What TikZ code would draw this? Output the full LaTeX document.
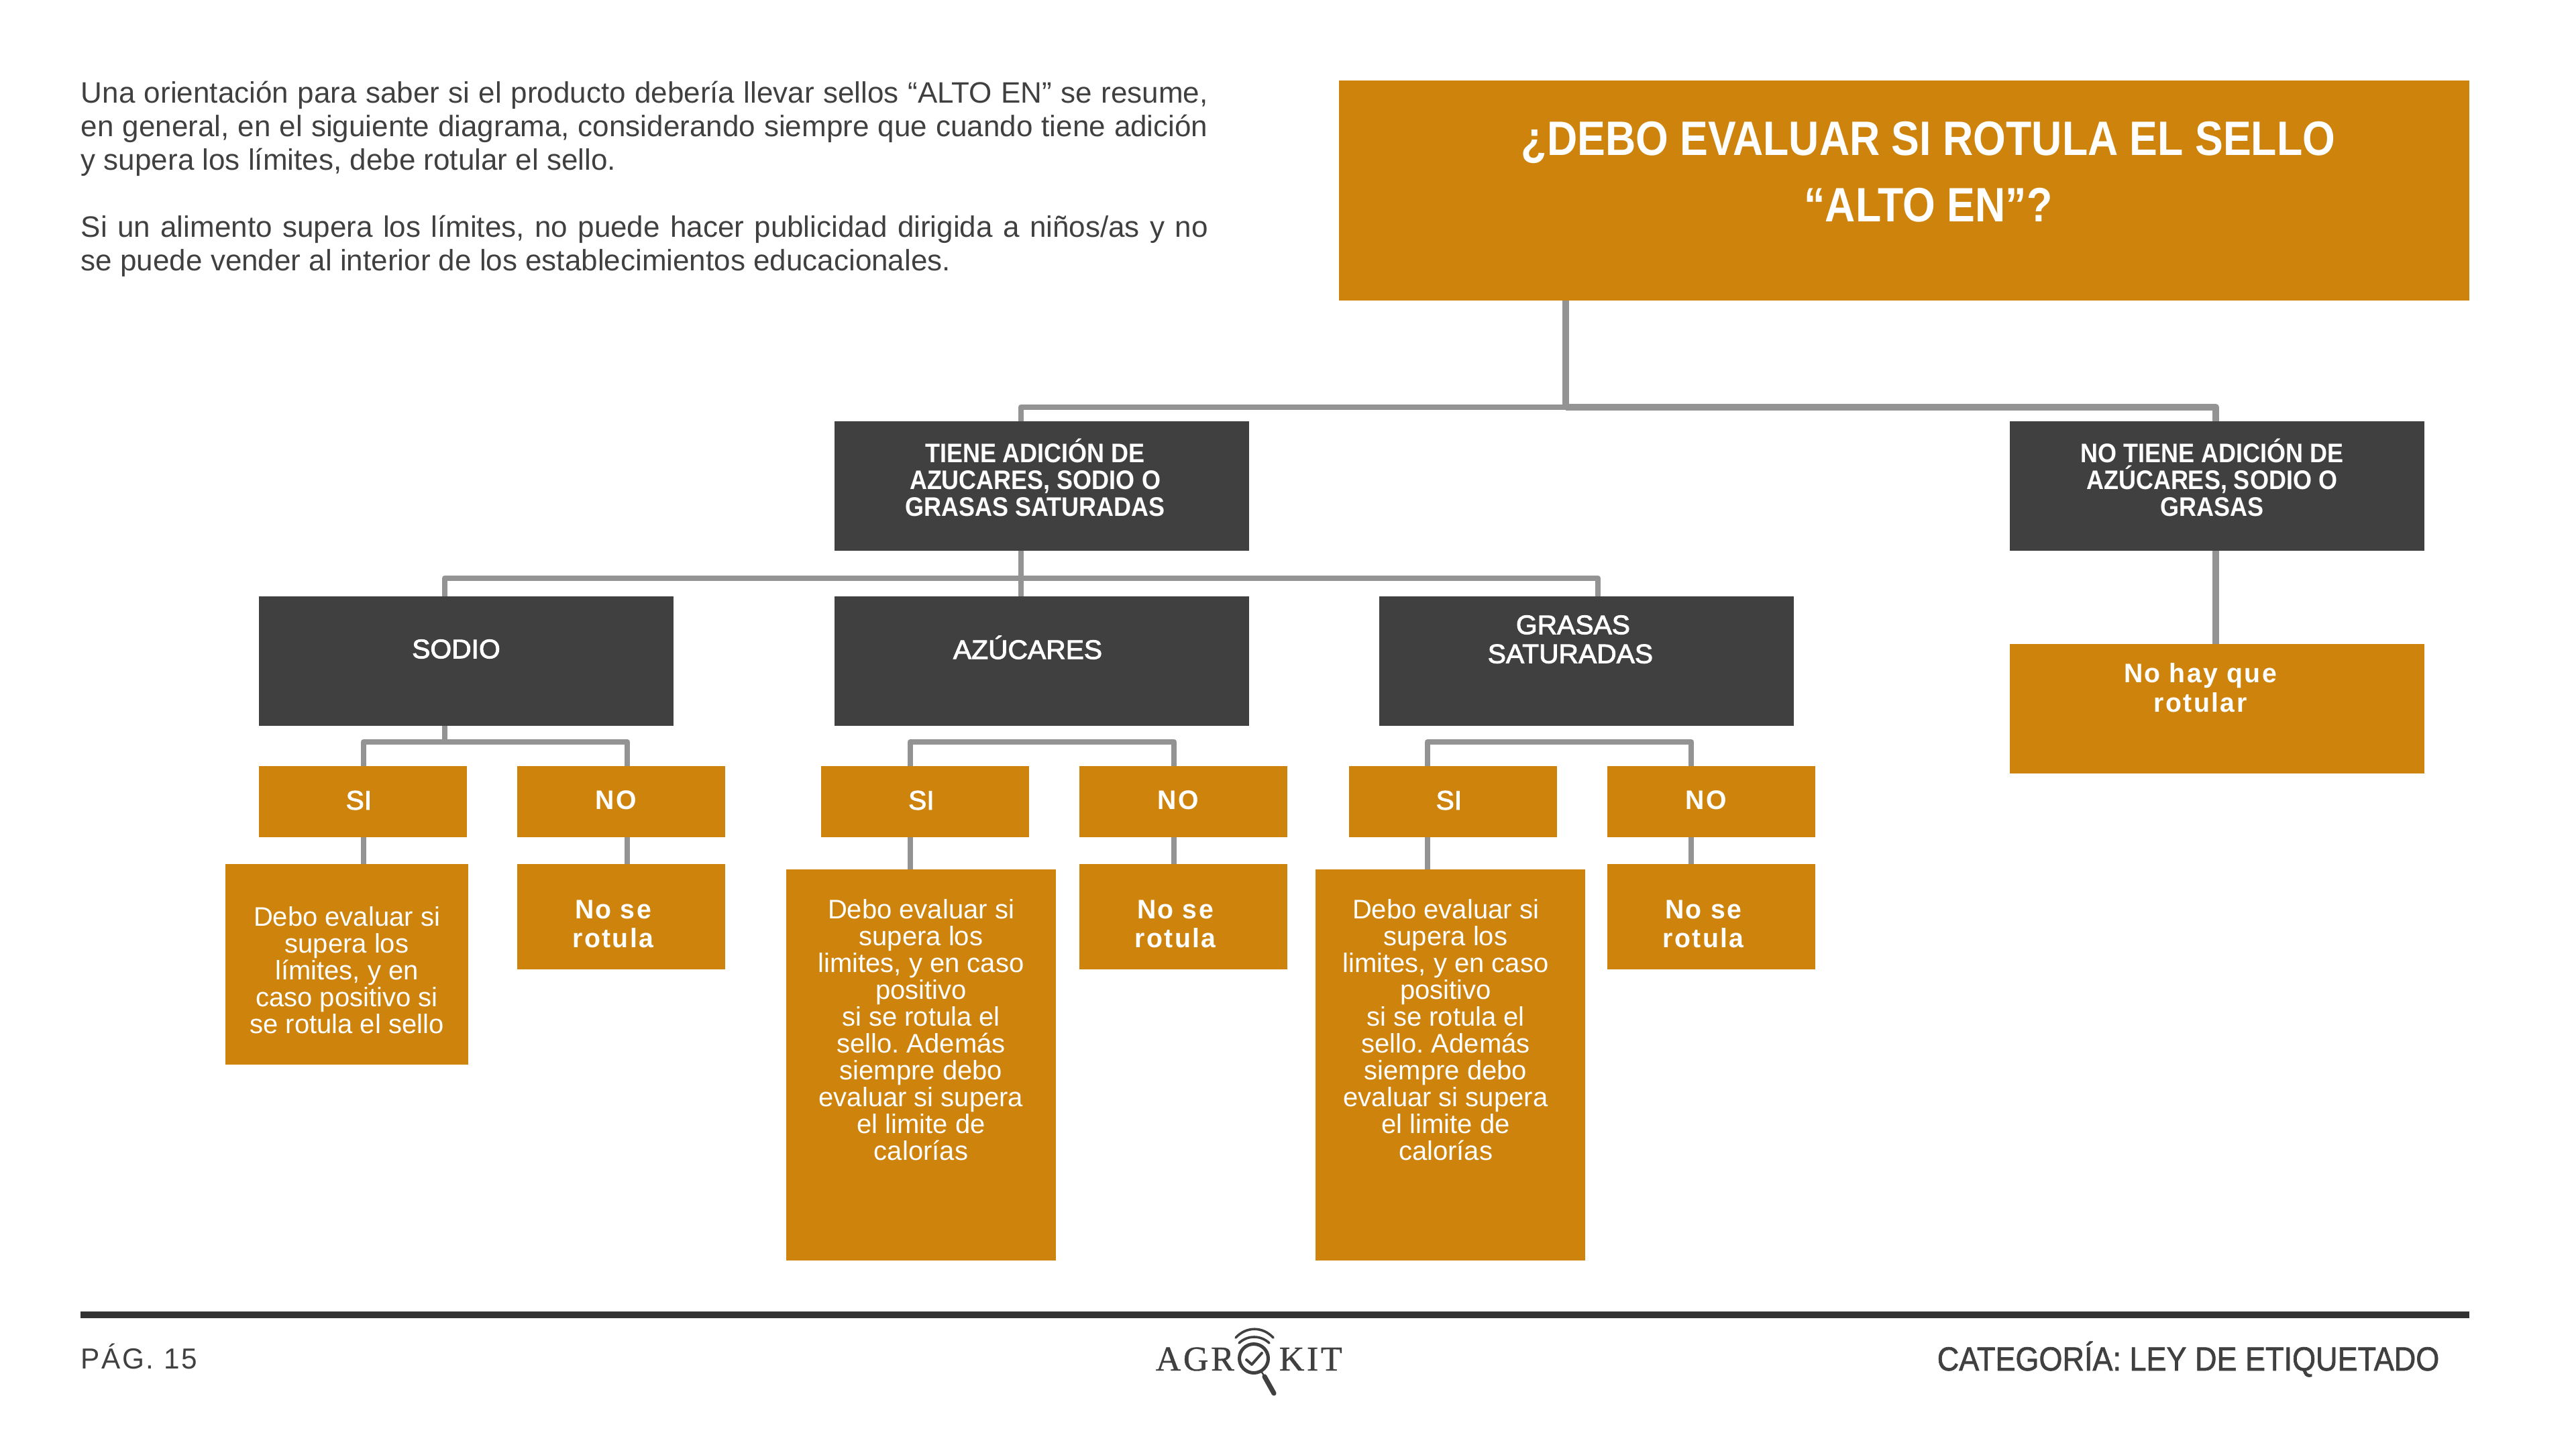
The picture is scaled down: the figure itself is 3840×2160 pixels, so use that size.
\documentclass[tikz,border=0pt]{standalone}
\usepackage{fontspec}
\setmainfont[BoldFeatures={FakeStretch=.9}]{Liberation Sans}
\newfontfamily\titlefont[BoldFeatures={FakeStretch=.87}]{Liberation Sans}
\newfontfamily\mediumfont[FakeStretch=1.02,FakeBold=2.4]{Liberation Sans}
\newfontfamily\footfont[FakeStretch=.9,FakeBold=1.4]{Liberation Sans}
\newfontfamily\spacedfont[FakeStretch=.98,LetterSpace=6]{Liberation Sans}
\newfontfamily\logofont[LetterSpace=7,FakeBold=.8]{Liberation Serif}
\usetikzlibrary{positioning,calc}
\definecolor{orangebox}{HTML}{CE840C}
\definecolor{darkbox}{HTML}{404040}
\definecolor{linkgrey}{HTML}{939393}
\definecolor{rulegrey}{HTML}{333333}
\tikzset{
	box/.style={inner sep=0pt,outer sep=0pt,text=white},
	dark/.style={box,fill=darkbox,minimum width=154.5pt,minimum height=48.25pt},
	orange/.style={box,fill=orangebox},
	answer/.style={orange,minimum width=77.5pt,minimum height=26.5pt},
	nobox/.style={orange,minimum width=77.5pt,minimum height=39.25pt},
	boxtext/.style={align=center,text=white,font=\fontsize{10}{10}\selectfont},
	boldtext/.style={boxtext,font=\fontsize{10}{10}\selectfont\bfseries},
	mediumtext/.style={boxtext,font=\fontsize{10}{10.8}\selectfont\mediumfont},
	spacedtext/.style={boxtext,font=\fontsize{10}{10.9}\selectfont\spacedfont\bfseries},
	link/.style={draw=linkgrey,line width=2.1pt,line join=round},
	thicklink/.style={link,line width=2.5pt},
	pagetext/.style={inner sep=0pt,text=darkbox},
}

\begin{document}
\frenchspacing
\begin{tikzpicture}[x=.25pt,y=-.25pt]
	\useasboundingbox (0,0) rectangle (3840,2160);
	\node[pagetext,anchor=north west,text width=420pt,align=justify,font=\fontsize{11}{12.5}\selectfont] (intro) at (120,120) {Una orientación para saber si el producto debería llevar sellos “ALTO EN” se resume,\linebreak en general, en el siguiente diagrama, considerando siempre que cuando tiene adición\linebreak y supera los límites, debe rotular el sello.\\[12.5pt]Si un alimento supera los límites, no puede hacer publicidad dirigida a niños/as y no\linebreak se puede vender al interior de los establecimientos educacionales.};

	\node[orange,minimum width=421.25pt,minimum height=82pt,label={[boxtext,font=\fontsize{18}{24.8}\selectfont\titlefont\bfseries,xshift=9pt,yshift=7pt]center:{¿DEBO EVALUAR SI ROTULA EL SELLO\\“ALTO EN”?}}] (title) at (2838.5,284) {};

	\node[dark,label={[boldtext,xshift=-2.5pt,yshift=3.2pt]center:{TIENE ADICIÓN DE\\AZUCARES, SODIO O\\GRASAS SATURADAS}}] (tiene) at (1553,724.5) {};
	\node[dark,label={[boldtext,xshift=-2pt,yshift=3.1pt]center:{NO TIENE ADICIÓN DE\\AZÚCARES, SODIO O\\GRASAS}}] (notiene) at (3305,724.5) {};
	\node[dark,label={[mediumtext,xshift=-3.75pt,yshift=4.5pt]center:{SODIO}}] (sodio) at (695,985.5) {};
	\node[dark,label={[mediumtext,xshift=-5.25pt,yshift=5.1pt]center:{AZÚCARES}}] (azucar) at (1553,985.5) {};
	\node[dark,label={[mediumtext,xshift=-4.9pt,yshift=8.1pt]center:{GRASAS\\SATURADAS\hspace*{2pt}}}] (grasas) at (2364.5,985.5) {};
	\node[orange,minimum width=154.5pt,minimum height=48.25pt,label={[spacedtext,xshift=-6.25pt,yshift=7.8pt]center:{No hay que\\rotular}}] (nohay) at (3305,1056.5) {};

	\foreach \name/\xsi/\xno in {sodio/540.5/926,azucar/1379/1764,grasas/2165.5/2551} {
		\node[answer,label={[mediumtext,xshift=-1.4pt,yshift=.5pt]center:{SI}}] (si\name) at (\xsi,1195) {};
		\node[answer,label={[spacedtext,xshift=-2pt,yshift=.5pt]center:{NO}}] (no\name) at (\xno,1195) {};
		\node[nobox,label={[spacedtext,xshift=-3pt,yshift=-2.75pt]center:{No se\\rotula}}] (rotula\name) at (\xno,1366.5) {};
	}

	\node[orange,minimum width=90.5pt,minimum height=74.75pt,label={[boxtext,yshift=-2.1pt]center:{Debo evaluar si\\supera los\\límites, y en\\caso positivo si\\se rotula el sello}}] (debosodio) at (517,1437.5) {};
	\node[orange,minimum width=100.5pt,minimum height=145.75pt,label={[boxtext,yshift=13pt]center:{Debo evaluar si\\supera los\\limites, y en caso\\positivo\\si se rotula el\\sello. Además\\siempre debo\\evaluar si supera\\el limite de\\calorías}}] (deboazucar) at (1373,1587.5) {};
	\node[orange,minimum width=100.5pt,minimum height=145.75pt,label={[boxtext,xshift=-1.75pt,yshift=13pt]center:{Debo evaluar si\\supera los\\limites, y en caso\\positivo\\si se rotula el\\sello. Además\\siempre debo\\evaluar si supera\\el limite de\\calorías}}] (debograsas) at (2162,1587.5) {};

	\coordinate (jroot) at (2334,607);
	\coordinate (jtiene) at (1522,607);
	\coordinate (jnotiene) at (3303,607);
	\draw[thicklink] (title.south -| jroot) -- (jroot);
	\draw[link] (tiene.north -| jtiene) -- (jtiene) -- (jroot);
	\draw[thicklink] (jroot) -- (jnotiene) -- (notiene.north -| jnotiene);
	\draw[thicklink] (notiene.south -| jnotiene) -- (nohay.north -| jnotiene);

	\coordinate (jsodio) at (663,862);
	\coordinate (jazucar) at (1522,862);
	\coordinate (jgrasas) at (2382,862);
	\draw[link] (sodio.north -| jsodio) -- (jsodio) -- (jgrasas) -- (grasas.north -| jgrasas);
	\draw[link] (tiene.south -| jazucar) -- (azucar.north -| jazucar);
	\draw[link] (sodio.south -| jsodio) -- ++(0,24);

	\foreach \name/\xsi/\xno in {sodio/542/935,azucar/1357/1750,grasas/2128/2521} {
		\coordinate (j\name si) at (\xsi,1106);
		\coordinate (j\name no) at (\xno,1106);
		\draw[link] (si\name.north -| j\name si) -- (j\name si) -- (j\name no) -- (no\name.north -| j\name no);
		\draw[link] (si\name.south -| j\name si) -- (debo\name.north -| j\name si);
		\draw[link] (no\name.south -| j\name no) -- (rotula\name.north -| j\name no);
	}

	\draw[rulegrey,line width=2.5pt] (120,1960) -- (3681,1960);
	\node[pagetext,anchor=base west,font=\fontsize{10.8}{12}\selectfont\spacedfont] (pagina) at (120,2040) {PÁG. 15};
	\node[pagetext,anchor=base east,font=\fontsize{12.5}{14}\selectfont\footfont] (categoria) at (3637,2043) {CATEGORÍA: LEY DE ETIQUETADO};

	\node[pagetext,anchor=base west,font=\fontsize{13}{14}\selectfont\logofont] (logoagr) at (1722,2043) {AGR};
	\node[pagetext,anchor=base west,font=\fontsize{13}{14}\selectfont\logofont] (logokit) at (1906,2043) {KIT};
	\draw[darkbox,line width=1.25pt] (1869,2025) circle (21.5);
	\draw[darkbox,line width=1pt,line join=round,line cap=round] (1858,2027) -- (1866,2034) -- (1881,2017);
	\draw[darkbox,line width=.6pt] (1880,2044) -- (1885,2052);
	\draw[darkbox,line width=1.8pt,line cap=round] (1885,2052) -- (1899,2077);
	\draw[darkbox,line width=.9pt,line cap=round] (1842,1994) .. controls (1858,1977) and (1882,1977) .. (1898,1994);
	\draw[darkbox,line width=.9pt,line cap=round] (1847,2002) .. controls (1860,1990) and (1879,1990) .. (1892,2002);
\end{tikzpicture}
\end{document}
